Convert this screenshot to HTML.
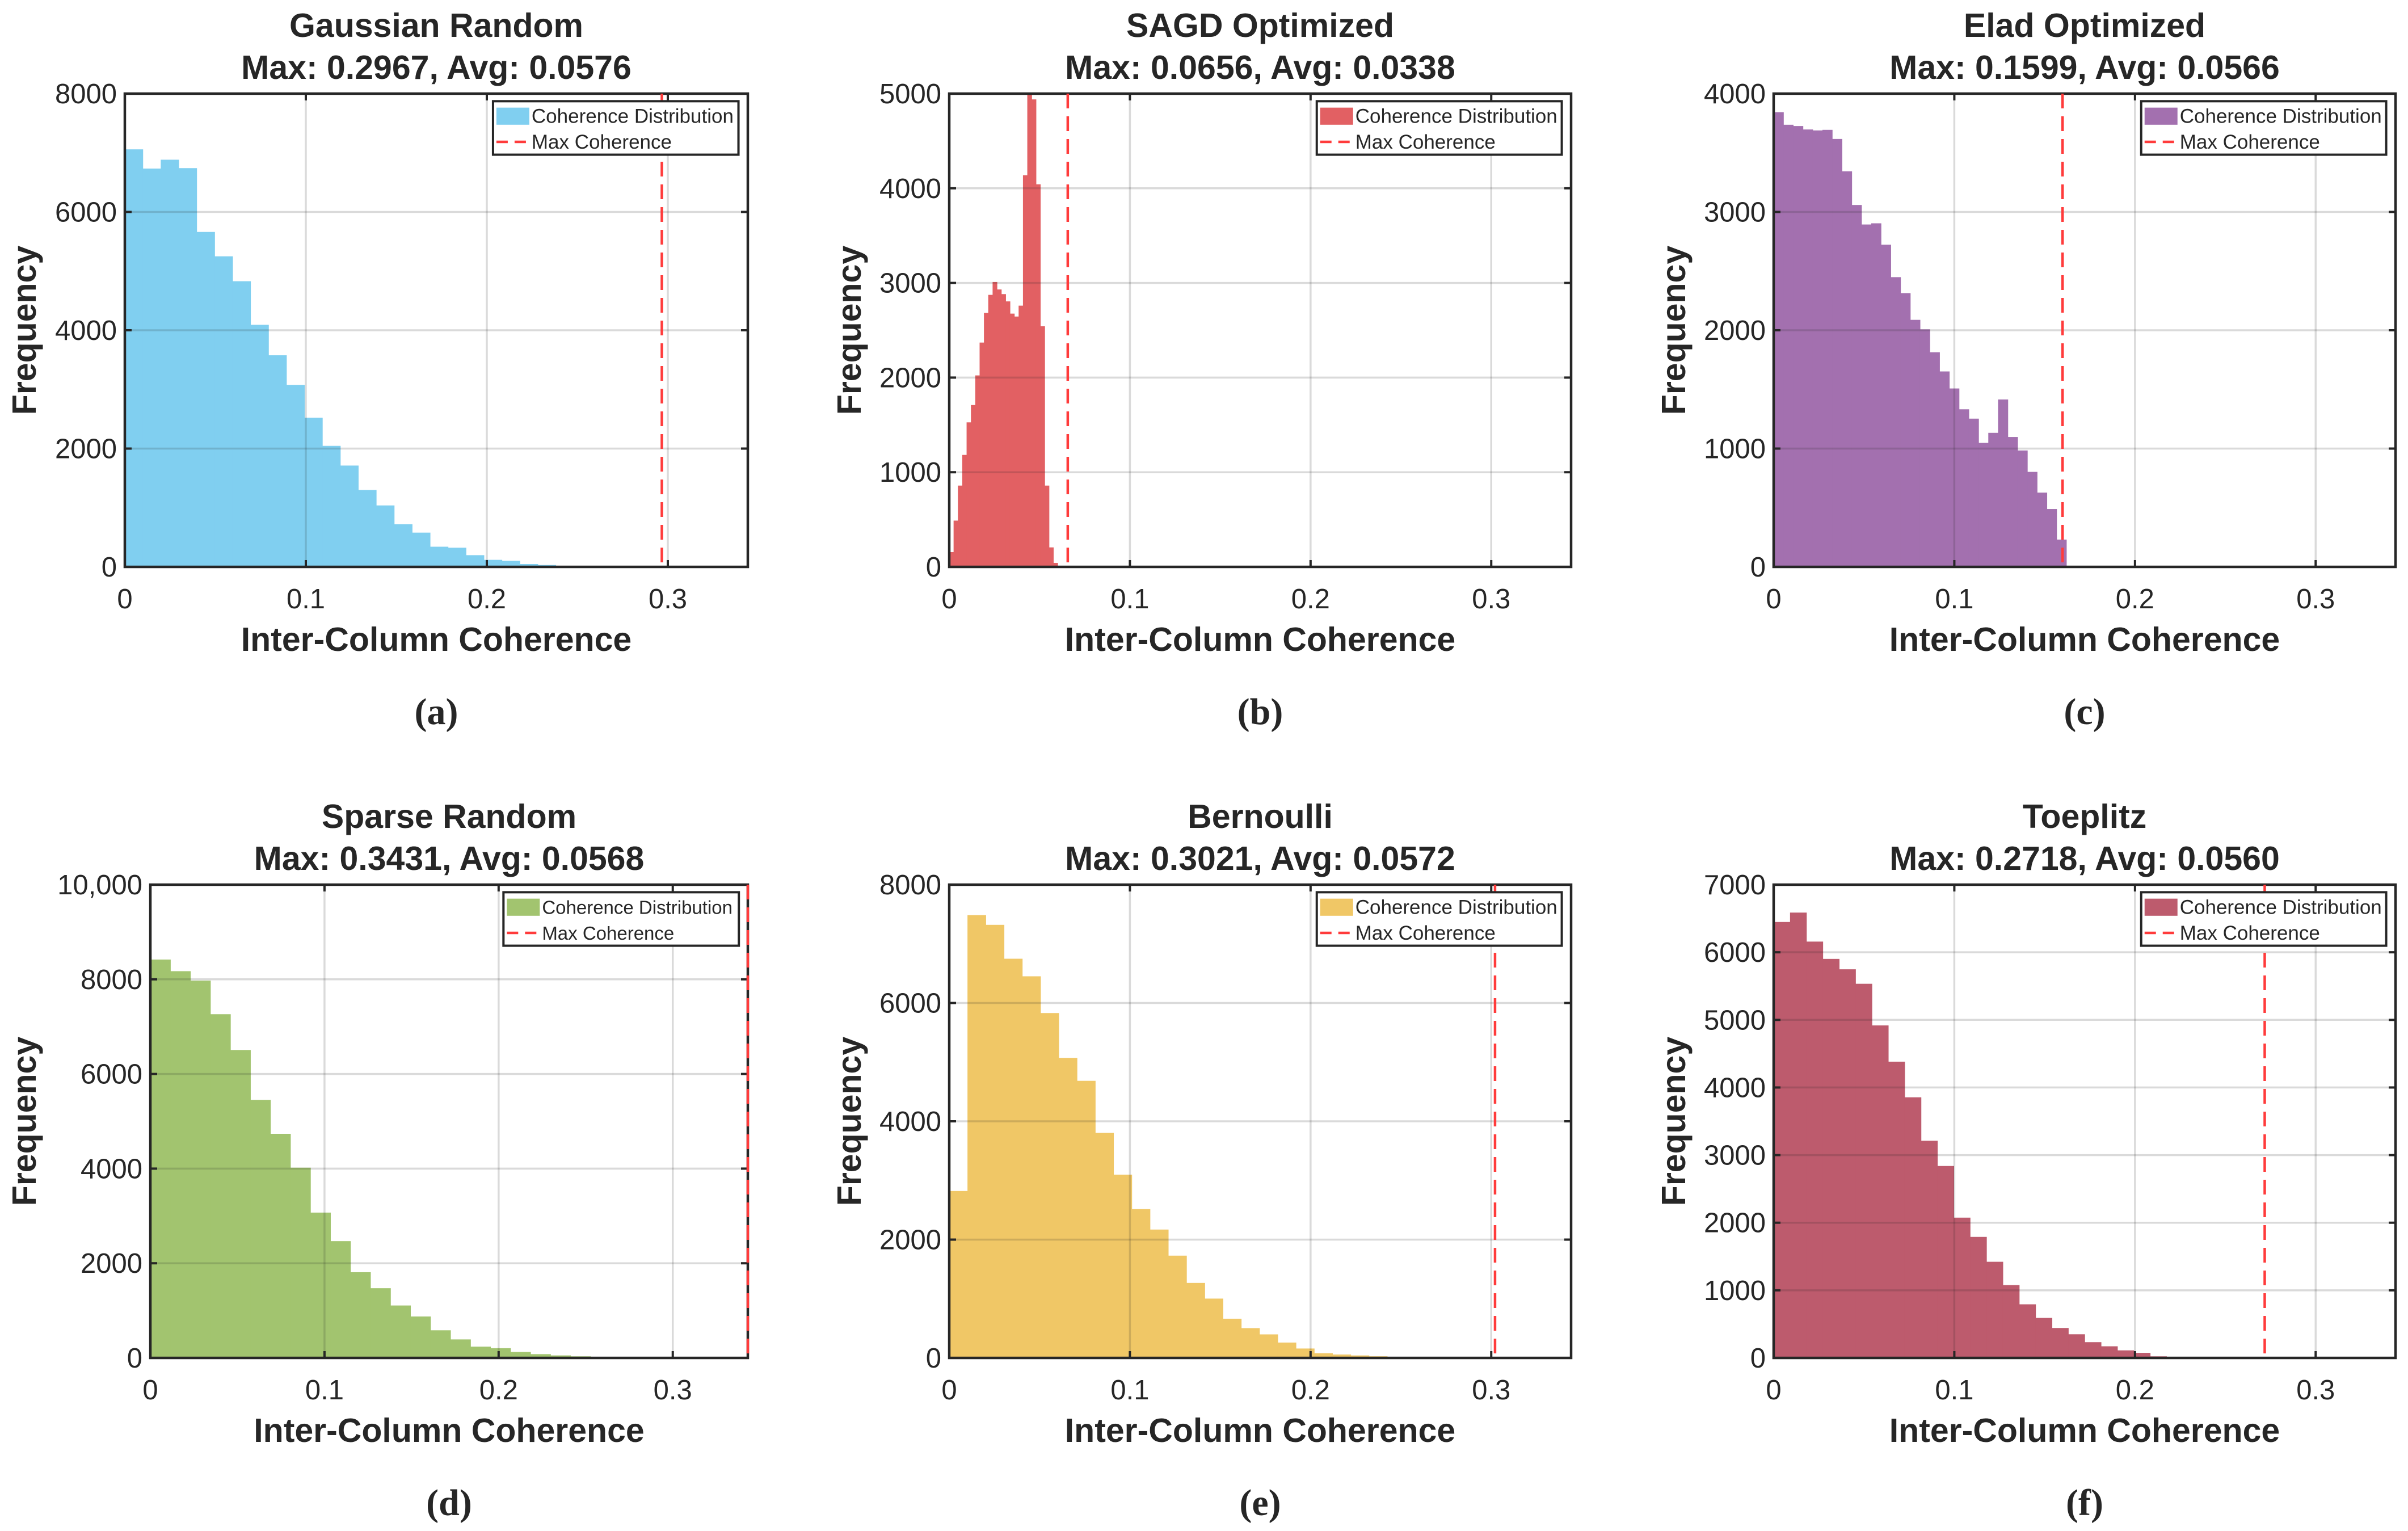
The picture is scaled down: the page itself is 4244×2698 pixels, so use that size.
<!DOCTYPE html>
<html><head><meta charset="utf-8">
<style>
html,body{margin:0;padding:0;background:#fff;}
svg{display:block;}
text{font-family:"Liberation Sans",Arial,sans-serif;fill:#262626;}
</style></head>
<body>
<svg id="fig" width="4244" height="2698" viewBox="0 0 4244 2698" xmlns="http://www.w3.org/2000/svg"></svg>
<script>
// ---------- data ----------
const panelTitles = ["Gaussian Random","SAGD Optimized","Elad Optimized","Sparse Random","Bernoulli","Toeplitz"];
const maxValues = [0.2967,0.0656,0.1599,0.3431,0.3021,0.2718];
const avgValues = [0.0576,0.0338,0.0566,0.0568,0.0572,0.0560];
const panelLetters = ["(a)","(b)","(c)","(d)","(e)","(f)"];
const binWidths = [0.00992,0.0024,0.0054,0.01149,0.0101,0.00906];
const countsA = [7058,6733,6883,6741,5662,5250,4829,4092,3577,3077,2522,2046,1713,1300,1039,722,579,341,325,198,119,103,48,32];
const countsB = [156,489,859,1183,1527,1710,2023,2370,2683,2874,3010,2931,2882,2805,2676,2645,2760,4137,5000,4939,4042,2542,859,206,42,0];
const countsC = [3843,3737,3726,3697,3689,3694,3617,3343,3059,2894,2904,2723,2449,2314,2088,2008,1814,1652,1508,1332,1253,1048,1133,1415,1098,984,803,628,489,231];
const countsD = [8418,8172,7973,7263,6507,5453,4736,4020,3071,2468,1811,1473,1108,876,584,391,239,206,126,80,53,33];
const countsE = [2822,7485,7321,6748,6451,5830,5072,4684,3804,3098,2515,2170,1729,1268,1003,663,504,398,260,159,80,58,42,27];
const countsF = [6448,6587,6158,5902,5748,5534,4918,4382,3855,3212,2839,2075,1790,1422,1077,793,592,443,350,233,172,112,75,23,9,5,3];
const yMaxes = [8000,5000,4000,10000,8000,7000];
const yTickValues = [[0,2000,4000,6000,8000],[0,1000,2000,3000,4000,5000],[0,1000,2000,3000,4000],[0,2000,4000,6000,8000,10000],[0,2000,4000,6000,8000],[0,1000,2000,3000,4000,5000,6000,7000]];
const yTickLabels = [["0","2000","4000","6000","8000"],["0","1000","2000","3000","4000","5000"],["0","1000","2000","3000","4000"],["0","2000","4000","6000","8000","10,000"],["0","2000","4000","6000","8000"],["0","1000","2000","3000","4000","5000","6000","7000"]];
const xTickValues = [0,0.1,0.2,0.3];
const xTickLabels = ["0","0.1","0.2","0.3"];
const xMaxes = [0.3442,0.3442,0.3442,0.3431,0.3442,0.3442];
const barColors = ["#80CFF0","#E26063","#A370AF","#A2C46F","#F0C766","#BD5B6D"];
const allCounts = [countsA,countsB,countsC,countsD,countsE,countsF];

// ---------- layout ----------
const NS="http://www.w3.org/2000/svg";
const svg=document.getElementById('fig');
const boxes=[[220,165,1318,999],[1673,165,2769,999],[3126,165,4222,999],[265,1559,1318,2393],[1673,1559,2769,2393],[3126,1559,4222,2393]];
const ylabelX=[43,1497,2950,43,1497,2950];
function mk(tag,attrs,parent){const e=document.createElementNS(NS,tag);for(const k in attrs)e.setAttribute(k,attrs[k]);(parent||svg).appendChild(e);return e;}

for(let p=0;p<6;p++){
  const [L,T,R,B]=boxes[p];
  const W=R-L,H=B-T;
  const xs=v=>L+v/xMaxes[p]*W;
  const ys=v=>B-Math.min(v,yMaxes[p])/yMaxes[p]*H;
  const g=mk('g',{});
  
  
  const counts=allCounts[p];
  for(let i=0;i<counts.length;i++){
    if(counts[i]<=0)continue;
    const x0=xs(i*binWidths[p]),x1=xs((i+1)*binWidths[p]);
    const r=mk('rect',{x:x0,y:ys(counts[i]),width:x1-x0+0.6,height:B-ys(counts[i]),fill:barColors[p]},g);
    
    
  }
  for(const v of xTickValues){
    const x=xs(v);
    const gl=mk('line',{x1:x,x2:x,y1:T,y2:B,stroke:'rgba(38,38,38,0.17)','stroke-width':3.5},g);
    
    
    mk('line',{x1:x,x2:x,y1:B,y2:B-12,stroke:'#262626','stroke-width':4},g);
    mk('line',{x1:x,x2:x,y1:T,y2:T+12,stroke:'#262626','stroke-width':4},g);
  }
  yTickValues[p].forEach((v,i)=>{
    const y=ys(v);
    const gl=mk('line',{x1:L,x2:R,y1:y,y2:y,stroke:'rgba(38,38,38,0.17)','stroke-width':3.5},g);
    
    
    mk('line',{x1:L,x2:L+12,y1:y,y2:y,stroke:'#262626','stroke-width':4},g);
    mk('line',{x1:R,x2:R-12,y1:y,y2:y,stroke:'#262626','stroke-width':4},g);
    const t=mk('text',{x:L-14,y:y+17,'text-anchor':'end','font-size':49},g);
    t.textContent=yTickLabels[p][i];
    
    
  });
  xTickValues.forEach((v,i)=>{
    const t=mk('text',{x:xs(v),y:B+73,'text-anchor':'middle','font-size':49},g);
    t.textContent=xTickLabels[i];
    
    
  });
  const ax=mk('rect',{x:L,y:T,width:W,height:H,fill:'none',stroke:'#262626','stroke-width':4.5},g);
  
  
  const mx=Math.min(xs(maxValues[p]),R);
  const ml=mk('line',{x1:mx,x2:mx,y1:T,y2:B,stroke:'#FF3B3B','stroke-width':4.5,'stroke-dasharray':'26 14'},g);
  
  
  const lx=L+0.591*W,lx2=L+0.985*W,ly=T+0.016*H,ly2=T+0.129*H;
  const lg=mk('g',{},g);
  
  
  mk('rect',{x:lx,y:ly,width:lx2-lx,height:ly2-ly,fill:'#fff',stroke:'#262626','stroke-width':4},lg);
  const lh=ly2-ly;
  mk('rect',{x:lx+6,y:ly+lh*0.12,width:58,height:lh*0.32,fill:barColors[p]},lg);
  mk('line',{x1:lx+6,x2:lx+64,y1:ly+lh*0.76,y2:ly+lh*0.76,stroke:'#FF3B3B','stroke-width':4.5,'stroke-dasharray':'20 12'},lg);
  const legFs = (lx2-lx) < 420 ? 33 : 35;
  const t1=mk('text',{x:lx+68,y:ly+lh*0.28+12,'font-size':legFs,fill:'#000'},lg);
  t1.textContent='Coherence Distribution';
  
  
  const t2=mk('text',{x:lx+68,y:ly+lh*0.76+12,'font-size':legFs,fill:'#000'},lg);
  t2.textContent='Max Coherence';
  
  
  const cx=(L+R)/2;
  const tt=mk('text',{x:cx,y:T-100,'text-anchor':'middle','font-size':59,'font-weight':'bold',fill:'#000'},g);
  tt.textContent=panelTitles[p];
  
  
  const ts=mk('text',{x:cx,y:T-26,'text-anchor':'middle','font-size':59,'font-weight':'bold',fill:'#000'},g);
  ts.textContent='Max: '+maxValues[p].toFixed(4)+', Avg: '+avgValues[p].toFixed(4);
  
  
  const xl=mk('text',{x:cx,y:B+148,'text-anchor':'middle','font-size':59,'font-weight':'bold'},g);
  xl.textContent='Inter-Column Coherence';
  
  
  const yl=mk('text',{x:0,y:0,'text-anchor':'middle','font-size':59,'font-weight':'bold',transform:'translate('+(ylabelX[p]+20)+','+((T+B)/2)+') rotate(-90)'},g);
  yl.textContent='Frequency';
  
  
  const pl=mk('text',{x:cx,y:B+277,'text-anchor':'middle','font-size':66,'font-weight':'bold',style:'font-family:"Liberation Serif",serif',fill:'#000'},g);
  pl.textContent=panelLetters[p];
  
  
}
</script>
</body></html>
